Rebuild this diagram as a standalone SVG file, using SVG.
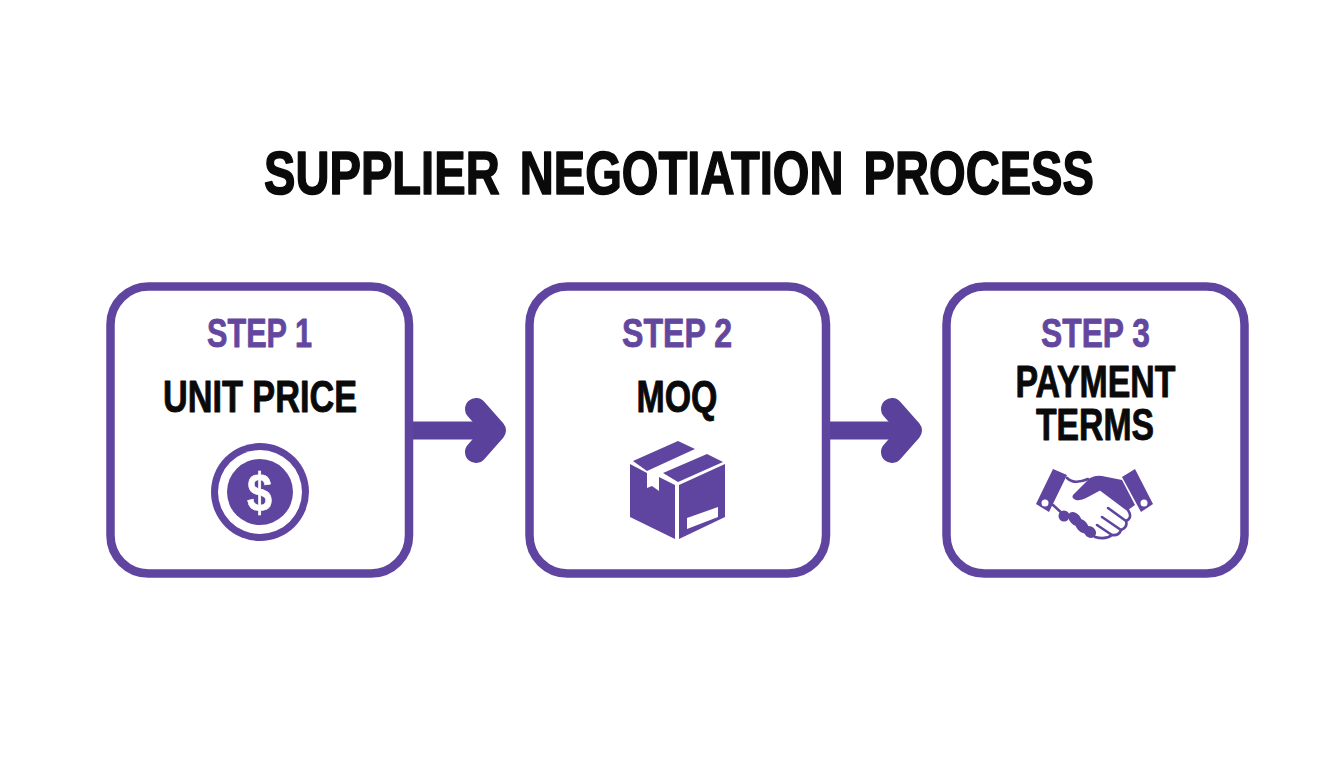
<svg xmlns="http://www.w3.org/2000/svg" width="1344" height="768" viewBox="0 0 1344 768">
<style>
.t{font-family:"Liberation Sans",Arial,sans-serif;font-weight:700;text-anchor:middle;stroke-linejoin:round}
.title{font-size:61px;fill:#0a0a0a;stroke:#0a0a0a;stroke-width:1.6px;word-spacing:9px}
.step{font-size:40px;fill:#63479f;stroke:#63479f;stroke-width:.8px}
.name{font-size:44px;fill:#0a0a0a;stroke:#0a0a0a;stroke-width:.9px}
.box{fill:#fff;stroke:#5f45a0;stroke-width:8.5}
.p{fill:#5f45a0}
.w{fill:#fff}
.l{fill:none;stroke:#5f45a0;stroke-width:2.6;stroke-linecap:round;stroke-linejoin:round}
.a{fill:none;stroke:#5a429c;stroke-linecap:round;stroke-linejoin:round}
</style>
<rect width="1344" height="768" fill="#fff"/>
<text class="t title" x="679" y="194" textLength="830" lengthAdjust="spacingAndGlyphs">SUPPLIER NEGOTIATION PROCESS</text>
<g id="connectors">
<g id="arrow-1"><path class="a" stroke-width="18" stroke-linecap="butt" d="M413 430.500H490"/><path class="a" stroke-width="22" d="M476 409L495 430.500L476 452"/></g>
<g id="arrow-2"><path class="a" stroke-width="18" stroke-linecap="butt" d="M830 430.500H906"/><path class="a" stroke-width="22" d="M892 409L911 430.500L892 452"/></g>
</g>
<g id="step-1">
<rect class="box" x="110.500" y="286.500" width="298.500" height="287" rx="38"/>
<text class="t step" x="259.500" y="347" textLength="105" lengthAdjust="spacingAndGlyphs">STEP 1</text>
<text class="t name" x="260" y="412" textLength="194" lengthAdjust="spacingAndGlyphs">UNIT PRICE</text>
<circle class="p" cx="260" cy="492" r="49"/><circle class="w" cx="260" cy="492" r="42"/><circle class="p" cx="260" cy="492" r="33"/>
<text x="259.500" y="511" font-family="Liberation Sans,sans-serif" font-weight="700" font-size="54" text-anchor="middle" fill="#fff" stroke="#fff" stroke-width=".6" textLength="25" lengthAdjust="spacingAndGlyphs">$</text>
</g>
<g id="step-2">
<rect class="box" x="529.500" y="286.500" width="296.500" height="287" rx="38"/>
<text class="t step" x="677" y="347" textLength="110" lengthAdjust="spacingAndGlyphs">STEP 2</text>
<text class="t name" x="677" y="412" textLength="81" lengthAdjust="spacingAndGlyphs">MOQ</text>
<path class="p" d="M633 461L678 441L695 449L647 471ZM663 473L707 454L723 462L678 482ZM630 464L647 473V488L652 486L659 491V477L675 485V539L630 517ZM679 485L725 464V517L679 539Z"/>
<path class="w" d="M687 518L718 507V517L687 529Z"/>
</g>
<g id="step-3">
<rect class="box" x="946.500" y="286.500" width="298" height="287" rx="38"/>
<text class="t step" x="1095.500" y="347" textLength="109" lengthAdjust="spacingAndGlyphs">STEP 3</text>
<text class="t name" x="1095.500" y="397" textLength="160" lengthAdjust="spacingAndGlyphs">PAYMENT</text>
<text class="t name" x="1095" y="440" textLength="118" lengthAdjust="spacingAndGlyphs">TERMS</text>
<path class="p" d="M1053 469L1067 475L1049 512L1036 504ZM1135 469L1153 504L1141 512L1122 477Z"/>
<circle class="w" cx="1045" cy="503" r="3.500"/><circle class="w" cx="1144" cy="503" r="3.500"/>
<path class="p" d="M1073 495L1090 478Q1096 475 1102 476L1122 480L1135 505L1128 510L1101 490L1088 497Q1080 501 1076 500Q1071 498 1073 495Z"/>
<path class="l" d="M1067 478Q1074 485 1088 479"/>
<path class="l" d="M1053 505L1064 515"/>
<g class="p"><circle cx="1064" cy="516" r="5.500"/><ellipse cx="1075" cy="519" rx="8" ry="5.500" transform="rotate(50 1075 519)"/><ellipse cx="1082" cy="526" rx="8.500" ry="5.500" transform="rotate(50 1082 526)"/><ellipse cx="1090" cy="532" rx="6.500" ry="5.500" transform="rotate(40 1090 532)"/></g>
<path class="l" d="M1100 489L1128 510Q1133 518 1126 521L1108 508M1126 521Q1128 527 1121 530L1102 517M1121 530Q1119 536 1112 535L1097 525M1112 535Q1106 540 1095 537"/>
</g>
</svg>
